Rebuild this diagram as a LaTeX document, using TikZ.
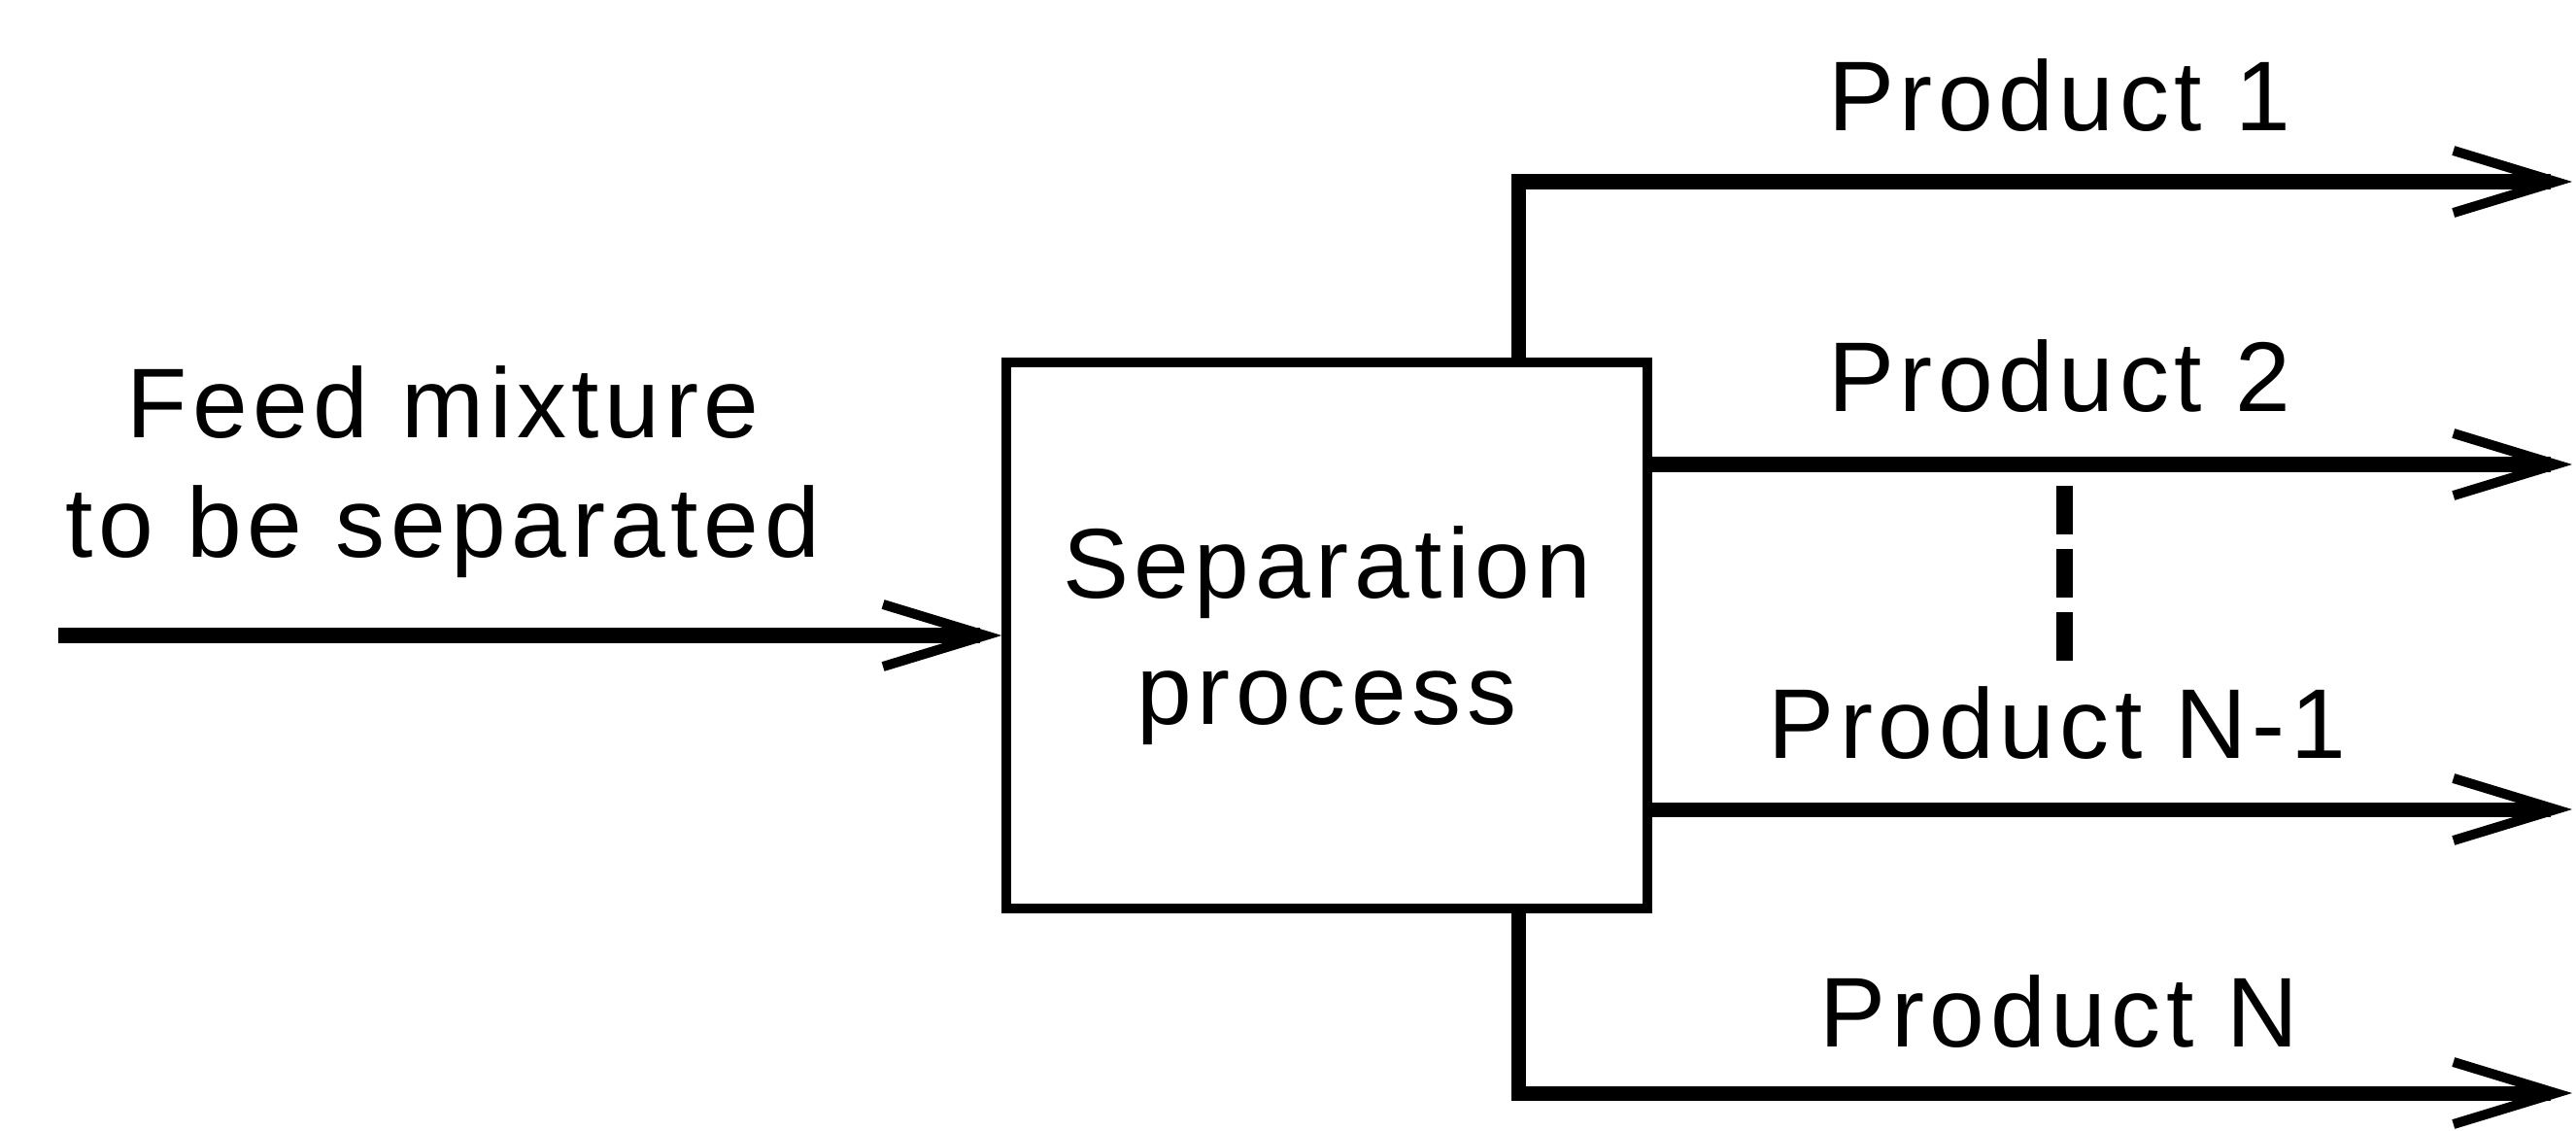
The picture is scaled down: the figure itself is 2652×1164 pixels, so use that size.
\documentclass[tikz,border=0pt]{standalone}
\usepackage{fontspec}
\setmainfont{Liberation Sans}[LetterSpace=5.5]
\usetikzlibrary{arrows.meta}

\begin{document}
\begin{tikzpicture}[x=0.01cm,y=-0.01cm,
  flow/.style={line width=0.15cm, line join=miter,
    -{Straight Barb[length=1.05cm,width=0.64cm,line width=0.1cm]}},
  lbl/.style={inner sep=0pt, anchor=base, font=\fontsize{29}{35}\selectfont},
  unit/.style={draw, line width=0.1cm, minimum width=6.59cm, minimum height=5.62cm,
    inner sep=0pt, align=center, font=\fontsize{29}{37}\selectfont}]
\useasboundingbox (0,0) rectangle (2652,1164);

% separation unit
\node[unit] (sep) at (1366,654) {Separation\\process};

% feed stream
\coordinate (feedstart) at (60,654);
\node[inner sep=0pt, align=center, font=\fontsize{29}{35}\selectfont] (feed) at (456,486)
  {Feed mixture\\to be separated};
\draw[flow] (feedstart) -- (sep.west);

% product streams
\coordinate (p1end) at (2648,187);
\coordinate (p2end) at (2648,478);
\coordinate (pn1end) at (2648,833);
\coordinate (pnend) at (2648,1125);

\draw[flow] ([xshift=1.97cm]sep.north) |- (p1end);
\draw[flow] (sep.east |- p2end) -- (p2end);
\draw[flow] (sep.east |- pn1end) -- (pn1end);
\draw[flow] ([xshift=1.97cm]sep.south) |- (pnend);

% intermediate products
\coordinate (gapTop) at (2125,500);
\coordinate (gapBot) at (2125,682);
\draw[line width=0.17cm, dash pattern=on 0.5cm off 0.15cm] (gapTop) -- (gapBot);

% stream labels
\node[lbl] (p1) at (2120,135) {Product 1};
\node[lbl] (p2) at (2120,423) {Product 2};
\node[lbl] (pn1) at (2118,780) {Product N-1};
\node[lbl] (pn) at (2120,1077) {Product N};
\end{tikzpicture}
\end{document}
